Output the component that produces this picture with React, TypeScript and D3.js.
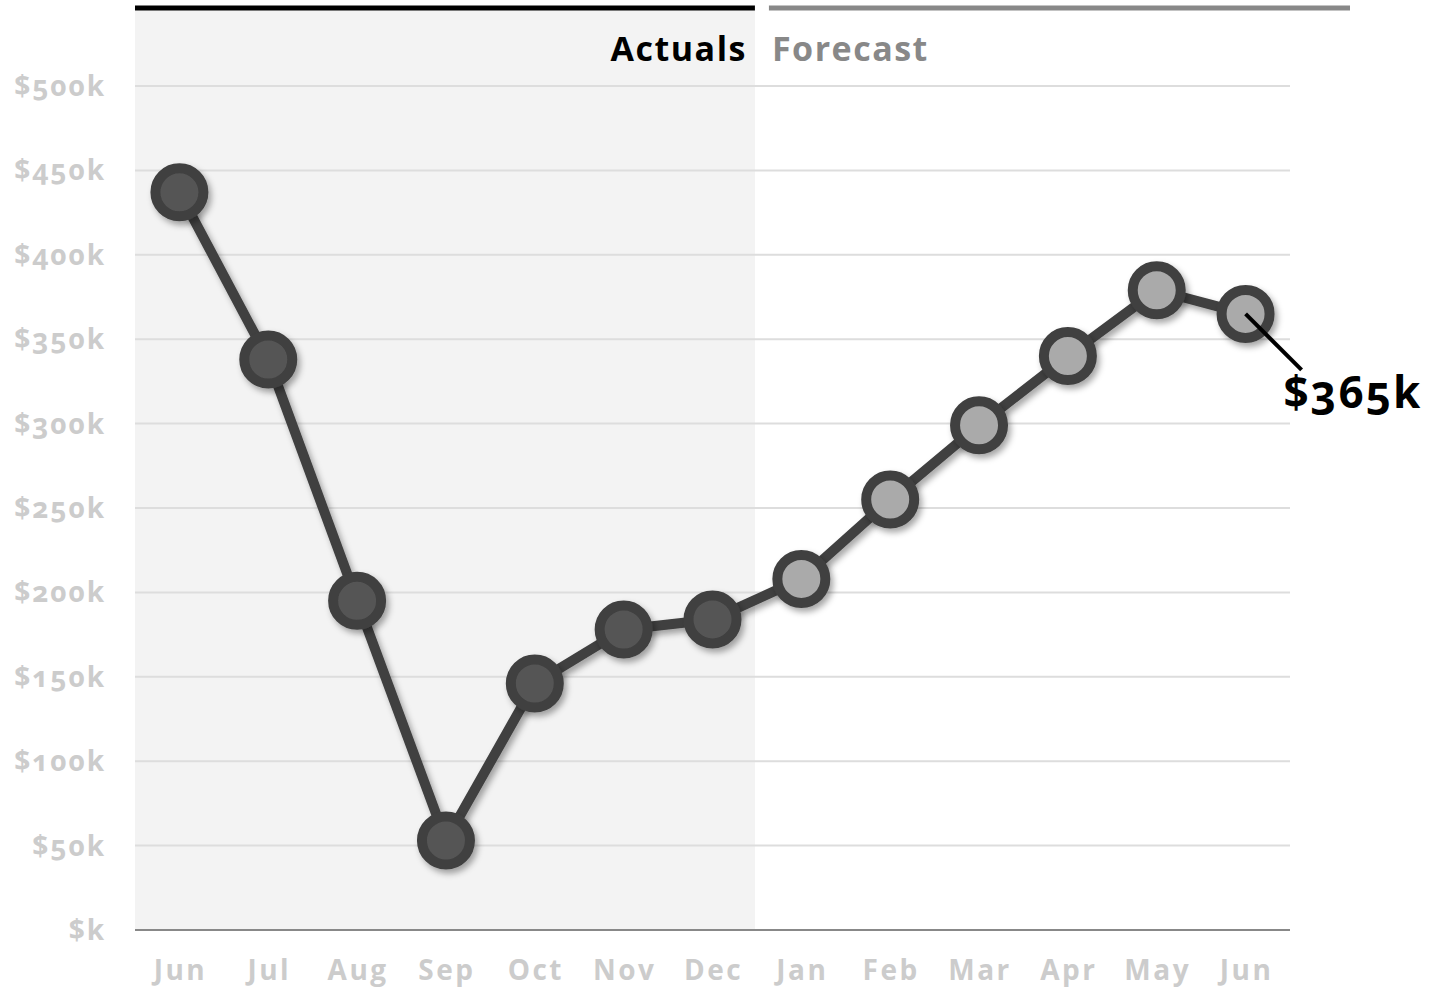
import React from 'react';
import * as d3 from 'd3';

const width = 1448;
const height = 987;
const margin = { left: 135, right: 158, top: 86, bottom: 57 };

const months = ['Jun', 'Jul', 'Aug', 'Sep', 'Oct', 'Nov', 'Dec', 'Jan', 'Feb', 'Mar', 'Apr', 'May', 'Jun'];
const revenue = [437, 338, 195, 53, 146, 178, 184, 208, 255, 299, 340, 379, 365]; // $k
const forecastFrom = 7; // Jan onwards is forecast
const yTicks = [0, 50, 100, 150, 200, 250, 300, 350, 400, 450, 500];

const font = '"Open Sans", Lato, sans-serif';
const oldstyle = { fontVariantNumeric: 'oldstyle-nums' };

const x = d3.scaleBand<number>()
  .domain(d3.range(months.length))
  .range([margin.left, width - margin.right]);

const y = d3.scaleLinear()
  .domain([0, 500])
  .range([height - margin.bottom, margin.top]);

const cx = (i: number) => (x(i) as number) + x.bandwidth() / 2;

const line = d3.line<number>()
  .x((d, i) => cx(i))
  .y(d => y(d));

export default function App() {
  const splitX = (x(forecastFrom) as number) - 2;
  const x0 = margin.left;
  const x1 = width - margin.right;
  const last = revenue.length - 1;
  const lx = cx(last);
  const ly = y(revenue[last]);

  return (
    <svg width={width} height={height} style={{ position: 'absolute', left: 0, top: 0, fontFamily: font }}>
      <defs>
        <filter id="shadow" x="-50%" y="-50%" width="200%" height="200%">
          <feDropShadow dx="3" dy="4" stdDeviation="3" floodColor="#000" floodOpacity="0.35" />
        </filter>
      </defs>

      {/* actuals shading + period bars */}
      <rect x={x0} y={10} width={splitX - x0} height={y(0) - 10} fill="#f3f3f3" />
      <line x1={x0} x2={splitX} y1={8} y2={8} stroke="#000" strokeWidth={5} />
      <line x1={splitX + 14} x2={1350} y1={8} y2={8} stroke="#888" strokeWidth={5} />

      <text x={splitX - 8} y={61} textAnchor="end" fontSize={34} fontWeight={700} fill="#000"
        letterSpacing={1.5}>Actuals</text>
      <text x={splitX + 17} y={61} textAnchor="start" fontSize={34} fontWeight={700} fill="#888"
        letterSpacing={1.5}>Forecast</text>

      {yTicks.map(t => (
        <g key={t}>
          {t > 0 && <line x1={x0} x2={x1} y1={y(t)} y2={y(t)} stroke="#ddd" strokeWidth={2} />}
          <text x={106} y={y(t) + 10} textAnchor="end" fontSize={28} fontWeight={700} fill="#ccc"
            letterSpacing={2} style={oldstyle}>
            {t === 0 ? '$k' : `$${t}k`}
          </text>
        </g>
      ))}
      <line x1={x0} x2={x1} y1={y(0)} y2={y(0)} stroke="#888" strokeWidth={2} />

      {months.map((m, i) => (
        <text key={i} x={cx(i) + 1} y={980} textAnchor="middle" fontSize={28} fontWeight={700} fill="#ccc"
          letterSpacing={2.5}>{m}</text>
      ))}

      <path d={line(revenue) as string} fill="none" stroke="#404040" strokeWidth={10} strokeLinejoin="round"
        filter="url(#shadow)" />
      {revenue.map((v, i) => (
        <circle key={i} cx={cx(i)} cy={y(v)} r={24} fill={i < forecastFrom ? '#555' : '#aaa'}
          stroke="#404040" strokeWidth={10} filter="url(#shadow)" />
      ))}

      <line x1={lx} y1={ly} x2={lx + 56} y2={ly + 56} stroke="#000" strokeWidth={4} />
      <text x={lx + 38} y={ly + 94} fontSize={44} fontWeight={700} fill="#000" letterSpacing={2}
        style={oldstyle}>
        ${revenue[last]}k
      </text>
    </svg>
  );
}
